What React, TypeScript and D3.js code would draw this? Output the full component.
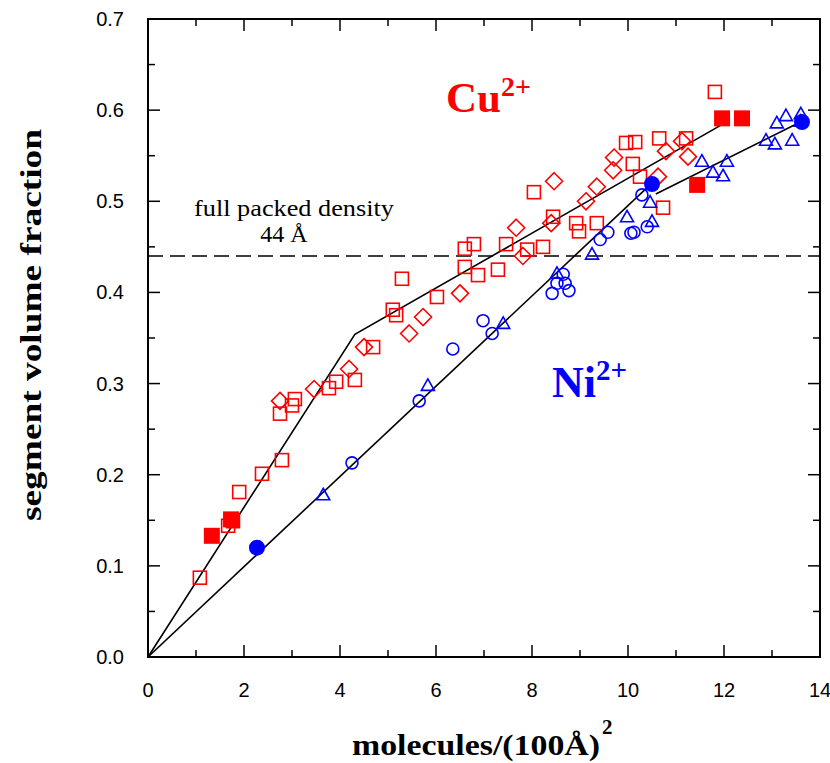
import React from "react";
import * as d3 from "d3";

const cuOpenSquares: [number, number][] = [
  [1.08, 0.087], [1.67, 0.144], [1.77, 0.149], [1.9, 0.181], [2.375, 0.201], [2.79, 0.216],
  [2.75, 0.267], [3.0, 0.276], [3.06, 0.283], [3.77, 0.295], [3.92, 0.302], [4.31, 0.304],
  [4.69, 0.34], [5.1, 0.381], [5.17, 0.375], [5.29, 0.415], [6.02, 0.395], [6.6, 0.448],
  [6.79, 0.453], [6.6, 0.428], [6.875, 0.419], [7.29, 0.425], [7.46, 0.453], [7.9, 0.447],
  [8.23, 0.45], [8.04, 0.51], [8.44, 0.483], [8.92, 0.476], [8.98, 0.467], [9.35, 0.476],
  [9.96, 0.564], [10.15, 0.565], [10.65, 0.569], [10.1, 0.541], [10.25, 0.527], [10.73, 0.493],
  [11.21, 0.569], [11.81, 0.62],
];
const cuDiamonds: [number, number][] = [
  [2.75, 0.281], [3.46, 0.294], [4.19, 0.316], [4.5, 0.34], [5.44, 0.355], [5.73, 0.373],
  [6.5, 0.399], [7.67, 0.471], [7.81, 0.44], [8.4, 0.476], [8.46, 0.522], [9.125, 0.5],
  [9.35, 0.516], [9.69, 0.534], [9.71, 0.548], [10.625, 0.527], [10.79, 0.555], [11.125, 0.566],
  [11.25, 0.549],
];
const cuFilledSquares: [number, number][] = [
  [1.33, 0.133], [1.73, 0.151], [11.44, 0.518], [11.96, 0.591], [12.375, 0.591],
];
const niOpenCircles: [number, number][] = [
  [4.25, 0.213], [5.65, 0.281], [6.35, 0.338], [6.98, 0.369], [7.17, 0.355], [8.65, 0.42],
  [8.52, 0.41], [8.69, 0.41], [8.42, 0.399], [8.77, 0.402], [9.42, 0.458], [9.58, 0.466],
  [10.06, 0.465], [10.125, 0.466], [10.4, 0.472], [10.29, 0.507],
];
const niTriangles: [number, number][] = [
  [3.65, 0.178], [5.83, 0.298], [7.4, 0.366], [8.52, 0.421], [9.25, 0.442], [9.98, 0.483],
  [10.46, 0.499], [10.5, 0.478], [11.54, 0.544], [11.77, 0.532], [11.98, 0.528], [12.06, 0.544],
  [12.875, 0.567], [13.06, 0.563], [13.42, 0.567], [13.1, 0.586], [13.29, 0.594], [13.6, 0.596],
  [13.6, 0.588],
];
const niFilledCircles: [number, number][] = [
  [2.27, 0.12], [10.5, 0.519], [13.625, 0.587],
];
const cuFitLine: [number, number][] = [[0, 0], [4.31, 0.354], [12.02, 0.586]];
const niFitLine1: [number, number][] = [[0, 0], [10.42, 0.516]];
const niFitLine2: [number, number][] = [[10.58, 0.508], [13.52, 0.585]];
const packedDensity = 0.44;

const xTicks = [0, 2, 4, 6, 8, 10, 12, 14];
const xMinor = [1, 3, 5, 7, 9, 11, 13];
const yTicks = [0, 0.1, 0.2, 0.3, 0.4, 0.5, 0.6, 0.7];
const yMinor = [0.05, 0.15, 0.25, 0.35, 0.45, 0.55, 0.65];

const RED = "#ff0000";
const BLUE = "#0000ff";

export default function App() {
  const L = 148, R = 820, T = 19, B = 657;
  const x = d3.scaleLinear().domain([0, 14]).range([L, R]);
  const y = d3.scaleLinear().domain([0, 0.7]).range([B, T]);
  const line = d3.line<[number, number]>().x(d => x(d[0])).y(d => y(d[1]));
  const serif = "Liberation Serif, Times New Roman, Times, serif";
  const sans = "Liberation Sans, Arial, Helvetica, sans-serif";
  const sw = 1.6;
  const maj = 12, mnr = 7;

  return (
    <svg width={830} height={763} style={{ position: "absolute", left: 0, top: 0, background: "#fff" }}>
      <rect x={0} y={0} width={830} height={763} fill="#fff" />
      <line x1={L} x2={R} y1={y(packedDensity)} y2={y(packedDensity)} stroke="#000" strokeWidth={1.5} strokeDasharray="15,7" />
      <path d={line(cuFitLine) || ""} fill="none" stroke="#000" strokeWidth={1.6} />
      <path d={line(niFitLine1) || ""} fill="none" stroke="#000" strokeWidth={1.6} />
      <path d={line(niFitLine2) || ""} fill="none" stroke="#000" strokeWidth={1.6} />

      {cuOpenSquares.map((d, i) => (
        <rect key={"cs" + i} x={x(d[0]) - 6.5} y={y(d[1]) - 6.5} width={13} height={13} fill="none" stroke={RED} strokeWidth={sw} />
      ))}
      {cuDiamonds.map((d, i) => {
        const cx = x(d[0]), cy = y(d[1]), r = 8.5;
        return <path key={"cd" + i} d={`M${cx},${cy - r}L${cx + r},${cy}L${cx},${cy + r}L${cx - r},${cy}Z`} fill="none" stroke={RED} strokeWidth={sw} />;
      })}
      {niOpenCircles.map((d, i) => (
        <circle key={"nc" + i} cx={x(d[0])} cy={y(d[1])} r={6} fill="none" stroke={BLUE} strokeWidth={sw} />
      ))}
      {niTriangles.map((d, i) => {
        const cx = x(d[0]), cy = y(d[1]), h = 6.5;
        return <path key={"nt" + i} d={`M${cx},${cy - h}L${cx + 6.5},${cy + 5}L${cx - 6.5},${cy + 5}Z`} fill="none" stroke={BLUE} strokeWidth={sw} />;
      })}
      {cuFilledSquares.map((d, i) => (
        <rect key={"cf" + i} x={x(d[0]) - 8} y={y(d[1]) - 8} width={16} height={16} fill={RED} />
      ))}
      {niFilledCircles.map((d, i) => (
        <circle key={"nf" + i} cx={x(d[0])} cy={y(d[1])} r={8} fill={BLUE} />
      ))}

      <rect x={L} y={T} width={R - L} height={B - T} fill="none" stroke="#000" strokeWidth={2} />
      {xTicks.map(t => (
        <g key={"xt" + t}>
          <line x1={x(t)} x2={x(t)} y1={B} y2={B - maj} stroke="#000" strokeWidth={1.5} />
          <line x1={x(t)} x2={x(t)} y1={T} y2={T + maj} stroke="#000" strokeWidth={1.5} />
          <text x={x(t)} y={697} textAnchor="middle" fontFamily={sans} fontSize={20}>{t}</text>
        </g>
      ))}
      {xMinor.map(t => (
        <g key={"xm" + t}>
          <line x1={x(t)} x2={x(t)} y1={B} y2={B - mnr} stroke="#000" strokeWidth={1.5} />
          <line x1={x(t)} x2={x(t)} y1={T} y2={T + mnr} stroke="#000" strokeWidth={1.5} />
        </g>
      ))}
      {yTicks.map(t => (
        <g key={"yt" + t}>
          <line x1={L} x2={L + maj} y1={y(t)} y2={y(t)} stroke="#000" strokeWidth={1.5} />
          <line x1={R} x2={R - maj} y1={y(t)} y2={y(t)} stroke="#000" strokeWidth={1.5} />
          <text x={124} y={y(t) + 7} textAnchor="end" fontFamily={sans} fontSize={20}>{t.toFixed(1)}</text>
        </g>
      ))}
      {yMinor.map(t => (
        <g key={"ym" + t}>
          <line x1={L} x2={L + mnr} y1={y(t)} y2={y(t)} stroke="#000" strokeWidth={1.5} />
          <line x1={R} x2={R - mnr} y1={y(t)} y2={y(t)} stroke="#000" strokeWidth={1.5} />
        </g>
      ))}

      <text x={294} y={216} textAnchor="middle" fontFamily={serif} fontSize={24} textLength={200} lengthAdjust="spacingAndGlyphs">full packed density</text>
      <text x={284} y={242} textAnchor="middle" fontFamily={serif} fontSize={24}>44 Å</text>
      <text x={446} y={112} fontFamily={serif} fontSize={43} fontWeight="bold" fill={RED}>
        Cu<tspan fontSize={28} dy={-16}>2+</tspan>
      </text>
      <text x={552} y={397} fontFamily={serif} fontSize={44} fontWeight="bold" fill={BLUE}>
        Ni<tspan fontSize={29} dy={-17}>2+</tspan>
      </text>

      <text transform={`translate(41,${(T + B) / 2 - 13}) rotate(-90)`} textAnchor="middle" fontFamily={serif} fontSize={29} fontWeight="bold" textLength={392} lengthAdjust="spacingAndGlyphs">
        segment volume fraction
      </text>
      <text x={352} y={755} fontFamily={serif} fontSize={30} fontWeight="bold" textLength={248} lengthAdjust="spacingAndGlyphs">
        molecules/(100Å)
      </text>
      <text x={602} y={734} fontFamily={serif} fontSize={21} fontWeight="bold">2</text>
    </svg>
  );
}
